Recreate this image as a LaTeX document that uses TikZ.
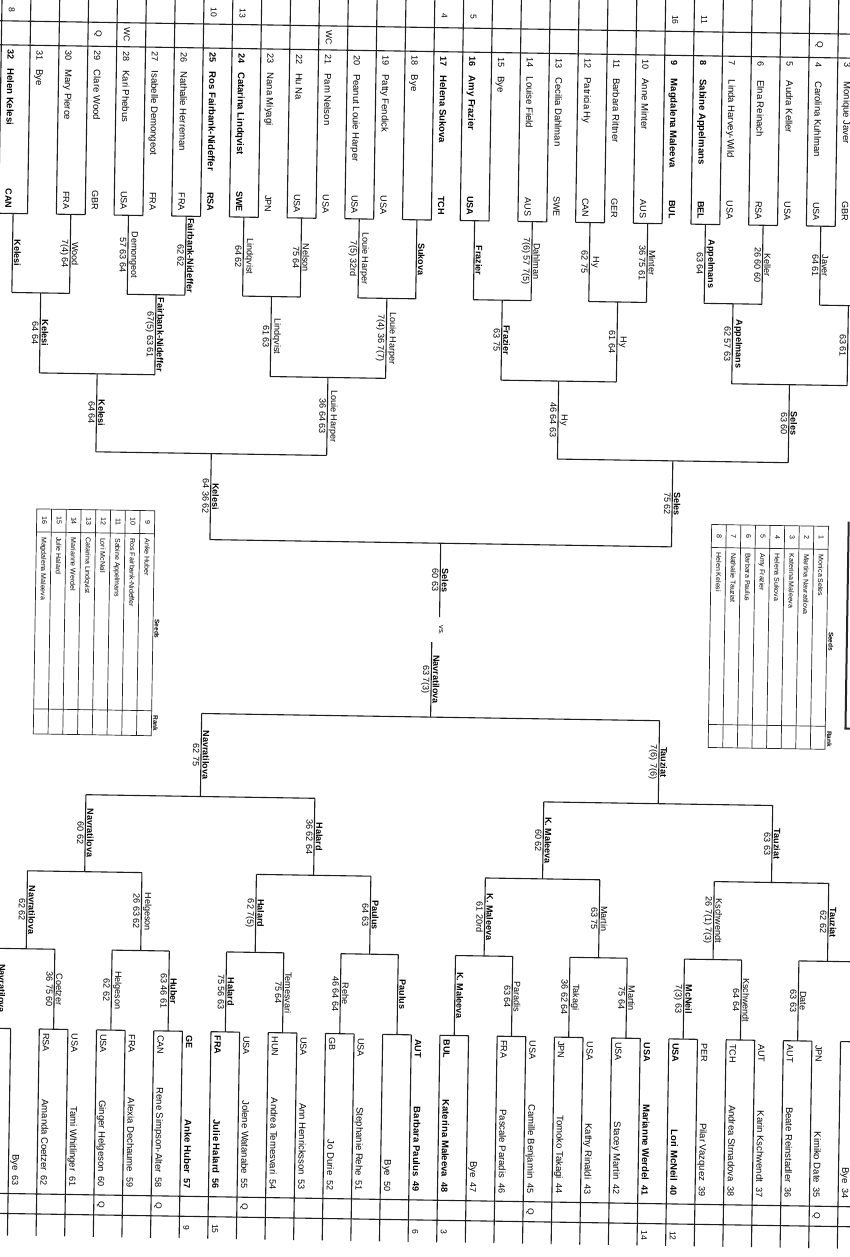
\documentclass[tikz,border=0pt]{standalone}
\usepackage{fontspec}
\setmainfont{Liberation Sans}
\begin{document}
\begin{tikzpicture}[x=1pt,y=-1pt,
  rule/.style={line width=1.1pt,draw=black!88},
  thinrule/.style={line width=0.7pt,draw=black!85},
  ptxt/.style={rotate=-90,inner sep=0pt,font=\fontsize{9.5}{10}\selectfont},
  ntxt/.style={rotate=-90,inner sep=0pt,font=\fontsize{9}{10}\selectfont},
  ctxt/.style={rotate=-90,inner sep=0pt,font=\fontsize{9}{10}\selectfont},
  mtxt/.style={rotate=-90,inner sep=0pt,font=\fontsize{8.5}{9}\selectfont},
  lab/.style={rotate=-90,inner sep=1pt,font=\fontsize{9}{10}\selectfont},
  stxt/.style={rotate=-90,inner sep=0pt,font=\fontsize{7}{8}\selectfont},
  shead/.style={rotate=-90,inner sep=0.5pt,font=\fontsize{6.5}{7}\selectfont\bfseries},
]
\def\yT{{-10,220,299,379,457,543,617}}
\def\yB{{1242,1035,955,877,800,717,642}}
\def\dash{-}
\useasboundingbox (0,0) rectangle (850,1257);
\clip (0,0) rectangle (850,1257);
\fill[white] (0,0) rectangle (850,1257);
\begin{scope}[rotate around={-0.9:(425,628)},transform shape]

% ---------- header / footer rows ----------
\draw[rule] (-20,27.5) -- (870,27.5);
\draw[rule] (-20,51.5) -- (870,51.5);
\draw[rule] (-20,1200) -- (870,1200);
\draw[rule] (-20,1220) -- (870,1220);

% ---------- player lines ----------
\foreach \pk in {1,...,32}{
  \pgfmathsetmacro\xx{800-28.85*(\pk-4)}
  \draw[rule] (\xx,-20) -- (\xx,220);
}
\foreach \pk in {1,...,32}{
  \pgfmathsetmacro\xx{847-28.62*(\pk-2)}
  \draw[rule] (\xx,1242) -- (\xx,1035);
}

% ---------- brackets ----------
\foreach \lv in {1,...,5}{
  \pgfmathtruncatemacro\nh{2^(5-\lv)}
  \pgfmathtruncatemacro\sz{2^(\lv-1)}
  \pgfmathtruncatemacro\rn{\lv+1}
  \pgfmathsetmacro\yc{\yT[\lv]}
  \pgfmathsetmacro\ye{\yT[\rn]}
  \pgfmathsetmacro\yd{\yB[\lv]}
  \pgfmathsetmacro\yf{\yB[\rn]}
  \foreach \hh in {1,...,\nh}{
    \pgfmathsetmacro\ka{(2*\hh-1.5)*\sz+0.5}
    \pgfmathsetmacro\kb{(2*\hh-0.5)*\sz+0.5}
    \pgfmathsetmacro\xa{800-28.85*(\ka-4)}
    \pgfmathsetmacro\xb{800-28.85*(\kb-4)}
    \pgfmathsetmacro\xm{(\xa+\xb)/2}
    \draw[rule] (\xa,\yc) -- (\xb,\yc);
    \draw[rule] (\xm,\yc) -- (\xm,\ye);
    \pgfmathsetmacro\xa{847-28.62*(\ka-2)}
    \pgfmathsetmacro\xb{847-28.62*(\kb-2)}
    \pgfmathsetmacro\xm{(\xa+\xb)/2}
    \draw[rule] (\xa,\yd) -- (\xb,\yd);
    \draw[rule] (\xm,\yd) -- (\xm,\yf);
  }
}

% ---------- top players ----------
\foreach \pk/\nm/\cc/\w in {
 3/Monique Javer/GBR/0, 4/Carolina Kuhlman/USA/0, 5/Audra Keller/USA/0,
 6/Elna Reinach/RSA/0, 7/Linda Harvey-Wild/USA/0, 8/Sabine Appelmans/BEL/1,
 9/Magdalena Maleeva/BUL/1, 10/Anne Minter/AUS/0, 11/Barbara Rittner/GER/0,
 12/Patricia Hy/CAN/0, 13/Cecilia Dahlman/SWE/0, 14/Louise Field/AUS/0,
 15/Bye//0, 16/Amy Frazier/USA/1, 17/Helena Sukova/TCH/1, 18/Bye//0,
 19/Patty Fendick/USA/0, 20/Peanut Louie Harper/USA/0, 21/Pam Nelson/USA/0,
 22/Hu Na/USA/0, 23/Nana Miyagi/JPN/0, 24/Catarina Lindqvist/SWE/1,
 25/Ros Fairbank-Nideffer/RSA/1, 26/Nathalie Herreman/FRA/0,
 27/Isabelle Demongeot/FRA/0, 28/Kari Phebus/USA/0, 29/Clare Wood/GBR/0,
 30/Mary Pierce/FRA/0, 31/Bye//0, 32/Helen Kelesi/CAN/1}{
  \pgfmathsetmacro\xx{800-28.85*(\pk-4)+6.5}
  \node[ntxt,anchor=base west] (tnum\pk) at (\xx,56) {\ifnum\w=1 \bfseries\fi\pk};
  \node[ptxt,anchor=base west] (tname\pk) at (\xx,75) {\ifnum\w=1 \bfseries\fi\nm};
  \edef\tmpc{\cc}
  \ifx\tmpc\empty\else
    \node[ctxt,anchor=base east] (tcty\pk) at (\xx,215) {\ifnum\w=1 \bfseries\fi\cc};
  \fi
}
\foreach \pk/\mk/\yy in {32/8/16, 25/10/16, 24/13/16, 17/4/16, 16/5/16, 9/16/16, 8/11/16,
  29/Q/39, 28/WC/39, 21/WC/39, 4/Q/39}{
  \node[mtxt] (tmark\pk) at ({800-28.85*(\pk-4)+10},\yy) {\mk};
}

% ---------- bottom players ----------
\foreach \pk/\nm/\cc/\w in {
 34/Bye//0, 35/Kimiko Date/JPN/0, 36/Beate Reinstadler/AUT/0,
 37/Karin Kschwendt/AUT/0, 38/Andrea Strnadova/TCH/0, 39/Pilar Vazquez/PER/0,
 40/Lori McNeil/USA/1, 41/Marianne Werdel/USA/1, 42/Stacey Martin/USA/0,
 43/Kathy Rinaldi/USA/0, 44/Tomoko Takagi/JPN/0, 45/Camille Benjamin/USA/0,
 46/Pascale Paradis/FRA/0, 47/Bye//0, 48/Katerina Maleeva/BUL/1,
 49/Barbara Paulus/AUT/1, 50/Bye//0, 51/Stephanie Rehe/USA/0, 52/Jo Durie/GB/0,
 53/Ann Henricksson/USA/0, 54/Andrea Temesvari/HUN/0, 55/Jolene Watanabe/USA/0,
 56/Julie Halard/FRA/1, 57/Anke Huber/GE/1, 58/Rene Simpson-Alter/CAN/0,
 59/Alexia Dechaume/FRA/0, 60/Ginger Helgeson/USA/0, 61/Tami Whitlinger/USA/0,
 62/Amanda Coetzer/RSA/0, 63/Bye//0}{
  \pgfmathsetmacro\xx{847-28.62*(\pk-34)+3.8}
  \node[ntxt,anchor=base east] (bnum\pk) at (\xx,1192) {\ifnum\w=1 \bfseries\fi\pk};
  \node[ptxt,anchor=base east] (bname\pk) at (\xx,1177) {\ifnum\w=1 \bfseries\fi\nm};
  \edef\tmpc{\cc}
  \ifx\tmpc\empty\else
    \node[ctxt,anchor=base west] (bcty\pk) at (\xx,1039) {\ifnum\w=1 \bfseries\fi\cc};
  \fi
}
\foreach \pk/\mk/\yy in {35/Q/1210, 45/Q/1210, 55/Q/1210, 58/Q/1210, 60/Q/1210,
  40/12/1232, 41/14/1232, 48/3/1232, 49/6/1232, 56/15/1232, 57/9/1232}{
  \node[mtxt] (bmark\pk) at ({847-28.62*(\pk-34)+7},\yy) {\mk};
}

% ---------- winners, top half ----------
\foreach \lv/\g/\nm/\sc/\w in {
 2/2/Javer/64 61/0, 2/3/Keller/26 60 60/0, 2/4/Appelmans/63 64/1,
 2/5/Minter/36 75 61/0, 2/6/Hy/62 75/0, 2/7/Dahlman/7(6) 57 7(5)/0,
 2/8/Frazier/-/1, 2/9/Sukova/-/1, 2/10/Louie Harper/7(5) 32rd/0,
 2/11/Nelson/75 64/0, 2/12/Lindqvist/64 62/0, 2/13/Fairbank-Nideffer/62 62/1,
 2/14/Demongeot/57 63 64/0, 2/15/Wood/7(4) 64/0, 2/16/Kelesi/-/1,
 3/2/Appelmans/62 57 63/1, 3/3/Hy/61 64/0, 3/4/Frazier/63 75/1,
 3/5/Louie Harper/7(4) 36 7(7)/0, 3/6/Lindqvist/61 63/0,
 3/7/Fairbank-Nideffer/67(5) 63 61/1, 3/8/Kelesi/64 64/1,
 4/1/Seles/63 60/1, 4/2/Hy/46 64 63/0, 4/3/Louie Harper/36 64 63/0,
 4/4/Kelesi/64 64/1, 5/1/Seles/75 62/1, 5/2/Kelesi/64 36 62/1,
 6/1/Seles/60 63/1}{
  \pgfmathsetmacro\xx{800-28.85*((\g-0.5)*2^(\lv-1)+0.5-4)}
  \pgfmathtruncatemacro\la{\lv-1}
  \pgfmathsetmacro\ya{\yT[\la]}
  \pgfmathsetmacro\yb{\yT[\lv]}
  \pgfmathsetmacro\yy{(\ya+\yb)/2}
  \node[lab,anchor=south] (tw\lv-\g) at (\xx+0.5,\yy) {\ifnum\w=1 \bfseries\fi\nm};
  \edef\tmps{\sc}
  \ifx\tmps\dash\else
    \node[lab,anchor=north] (ts\lv-\g) at (\xx-0.5,\yy) {\sc};
  \fi
}
\node[lab,anchor=north] (ts3-1) at ({800-28.85*(2.5-4)-0.5},339) {63 61};

% ---------- winners, bottom half ----------
\foreach \lv/\g/\nm/\sc/\w in {
 2/2/Date/63 63/0, 2/3/Kschwendt/64 64/0, 2/4/McNeil/7(3) 63/1,
 2/5/Martin/75 64/0, 2/6/Takagi/36 62 64/0, 2/7/Paradis/63 64/0,
 2/8/K. Maleeva/-/1, 2/9/Paulus/-/1, 2/10/Rehe/46 64 64/0,
 2/11/Temesvari/75 64/0, 2/12/Halard/75 56 63/1, 2/13/Huber/63 46 61/1,
 2/14/Helgeson/62 62/0, 2/15/Coetzer/36 75 60/0, 2/16/Navratilova/-/1,
 3/1/Tauziat/62 62/1, 3/2/Kschwendt/26 7(1) 7(3)/0, 3/3/Martin/63 75/0,
 3/4/K. Maleeva/61 20rd/1, 3/5/Paulus/64 63/1, 3/6/Halard/62 7(5)/1,
 3/7/Helgeson/26 63 62/0, 3/8/Navratilova/62 62/1,
 4/1/Tauziat/63 63/1, 4/2/K. Maleeva/60 62/1, 4/3/Halard/36 62 64/1,
 4/4/Navratilova/60 62/1, 5/1/Tauziat/7(6) 7(6)/1, 5/2/Navratilova/62 75/1,
 6/1/Navratilova/63 7(3)/1}{
  \pgfmathsetmacro\xx{847-28.62*((\g-0.5)*2^(\lv-1)+0.5-2)}
  \pgfmathtruncatemacro\la{\lv-1}
  \pgfmathsetmacro\ya{\yB[\la]}
  \pgfmathsetmacro\yb{\yB[\lv]}
  \pgfmathsetmacro\yy{(\ya+\yb)/2}
  \node[lab,anchor=south] (bw\lv-\g) at (\xx+0.5,\yy) {\ifnum\w=1 \bfseries\fi\nm};
  \edef\tmps{\sc}
  \ifx\tmps\dash\else
    \node[lab,anchor=north] (bs\lv-\g) at (\xx-0.5,\yy) {\sc};
  \fi
}
\node[lab,font=\fontsize{7.5}{8}\selectfont] (vs) at (441,630) {vs.};

% ---------- seeds table 9-16 ----------
\draw[thinrule] (35,515) rectangle (153,740);
\draw[thinrule] (35,538) -- (153,538) (35,715) -- (153,715);
\foreach \i in {1,...,7}{\draw[thinrule] ({35+\i*14.75},515) -- ({35+\i*14.75},740);}
\foreach \i/\sd/\nm in {0/16/Magdalena Maleeva, 1/15/Julie Halard, 2/14/Marianne Werdel,
  3/13/Catarina Lindqvist, 4/12/Lori McNeil, 5/11/Sabine Appelmans,
  6/10/Ros Fairbank-Nideffer, 7/9/Anke Huber}{
  \node[stxt] (sna\sd) at ({35+\i*14.75+7.8},526.5) {\sd};
  \node[stxt,anchor=base west] (snb\sd) at ({35+\i*14.75+5.3},543) {\nm};
}
\node[shead,anchor=south west] (seedsA) at (154,623) {Seeds};
\node[shead,anchor=south west] (rankA) at (154,719) {Rank};

% ---------- seeds table 1-8 ----------
\draw[thinrule] (710,520) rectangle (826.8,743);
\draw[thinrule] (710,543) -- (826.8,543) (710,720) -- (826.8,720);
\foreach \i in {1,...,7}{\draw[thinrule] ({710+\i*14.6},520) -- ({710+\i*14.6},743);}
\foreach \i/\sd/\nm in {0/8/Helen Kelesi, 1/7/Nathalie Tauziat, 2/6/Barbara Paulus,
  3/5/Amy Frazier, 4/4/Helena Sukova, 5/3/Katerina Maleeva,
  6/2/Martina Navratilova, 7/1/Monica Seles}{
  \node[stxt] (snc\sd) at ({710+\i*14.6+7.7},531.5) {\sd};
  \node[stxt,anchor=base west] (snd\sd) at ({710+\i*14.6+5.2},548) {\nm};
}
\node[shead,anchor=south west] (seedsB) at (828,625) {Seeds};
\node[shead,anchor=south west] (rankB) at (828,724) {Rank};

\draw[line width=2pt,black!85] (847,515) -- (847,722) -- (858,722);
\end{scope}
\end{tikzpicture}
\end{document}
